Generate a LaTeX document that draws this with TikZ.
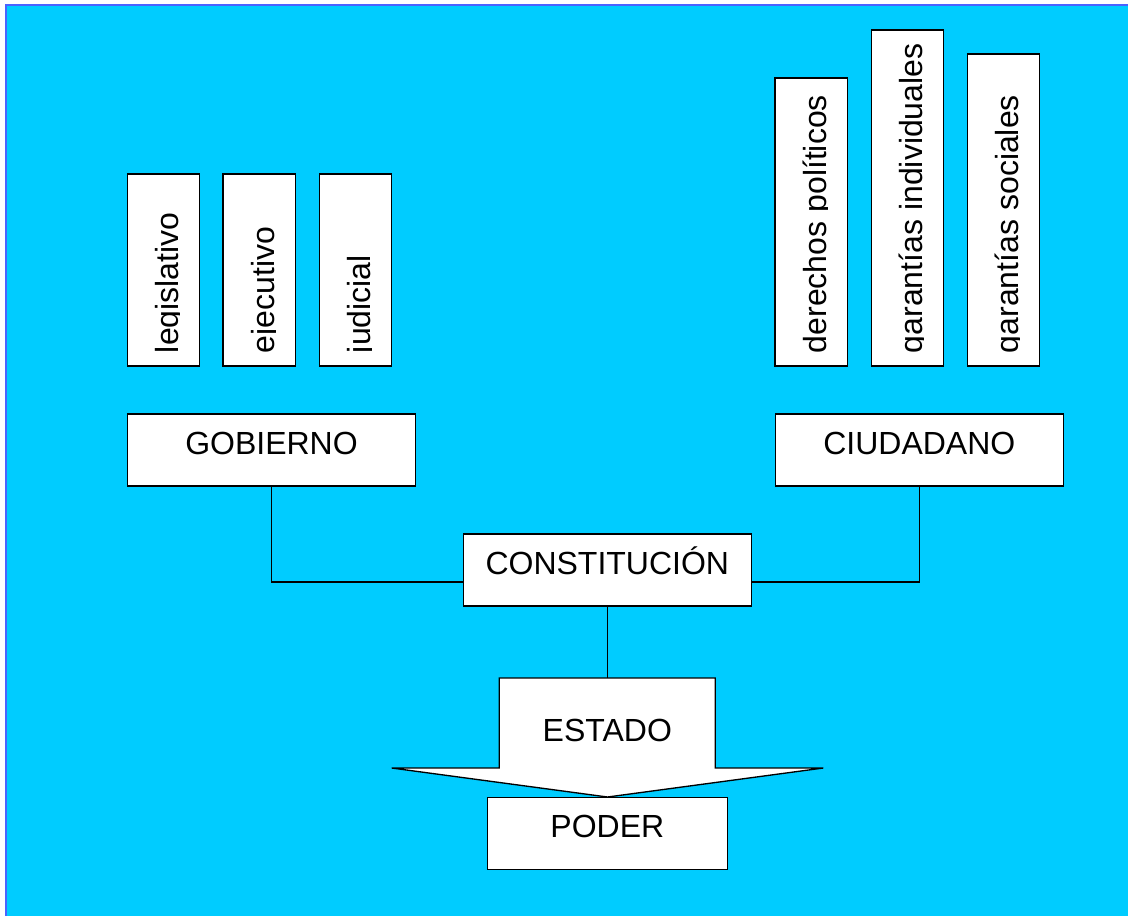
\documentclass[tikz,border=0pt]{standalone}
\usepackage{fontspec}
\setmainfont{Liberation Sans}
\usetikzlibrary{calc}
\definecolor{bgcyan}{HTML}{00CCFF}
\definecolor{frameblue}{HTML}{4A63FF}
\begin{document}
\begin{tikzpicture}[x=0.75pt,y=-0.75pt,
  box/.style={draw=black, fill=white, line width=1pt, inner sep=0pt, outer sep=0pt, anchor=north west},
  hbox/.style={box, minimum width=288*0.75pt, minimum height=72*0.75pt},
  vbox/.style={box, minimum width=72.5*0.75pt, minimum height=#1*0.75pt},
  lbl/.style={font=\fontsize{24}{28}\selectfont, inner sep=0pt, anchor=base},
  vlbl/.style={font=\fontsize{24}{28}\selectfont, inner sep=0pt, anchor=base west, rotate=90},
  link/.style={draw=black, line width=1pt}]
\useasboundingbox (0,0) rectangle (1128,915);
\clip (0,0) rectangle (1128,915);
% background
\fill[white] (0,0) rectangle (1128,915);
\draw[fill=bgcyan, draw=frameblue, line width=1.5pt] (5.8,5) rectangle (1140,930);

% vertical boxes (left group)
\node[vbox=192] (leg) at (127.3,174) {};
\node[vbox=192] (eje) at (223,174) {};
\node[vbox=192] (jud) at (319.3,174) {};
% vertical boxes (right group)
\node[vbox=288] (der) at (775,78) {};
\node[vbox=336] (gind) at (871.3,30) {};
\node[vbox=312] (gsoc) at (967.3,54) {};

\foreach \b/\t in {leg/legislativo, eje/ejecutivo, jud/judicial, der/derechos políticos, gind/garantías individuales, gsoc/garantías sociales}{
  \begin{scope}
    \clip (\b.north west) rectangle ($(\b.south west)+(52.6,0)$);
    \node[vlbl] (\b-t) at ($(\b.south west)+(51.6,-12.7)$) {\t};
  \end{scope}
}

% main boxes
\node[hbox] (gob) at (127.5,414) {};
\node[lbl] (gob-t) at ($(gob.north)+(0,40)$) {GOBIERNO};
\node[hbox] (ciu) at (775.3,414) {};
\node[lbl] (ciu-t) at ($(ciu.north)+(0,40)$) {CIUDADANO};
\node[hbox] (con) at (463.3,534) {};
\node[lbl] (con-t) at ($(con.north)+(0,40)$) {CONSTITUCIÓN};

% connectors
\draw[link] (gob.south) |- ($(con.west)+(0,12)$);
\draw[link] (ciu.south) |- ($(con.east)+(0,12)$);

% block arrow ESTADO
\coordinate (atop) at (607.3,678);
\coordinate (atip) at (607.5,797);
\draw[fill=white, line width=1pt, line join=miter]
  (499.3,678) -- (715.3,678) -- (715.3,768) -- (823.3,768) -- (atip)
  -- (391.7,768) -- (499.3,768) -- cycle;
\node[lbl] (est) at (607.3,741) {ESTADO};
\draw[link] (con.south) -- (atop);

% PODER
\node[box, minimum width=240*0.75pt, minimum height=72*0.75pt] (pod) at (487.3,797.7) {};
\node[lbl] (pod-t) at ($(pod.north)+(0,40)$) {PODER};
\end{tikzpicture}
\end{document}
